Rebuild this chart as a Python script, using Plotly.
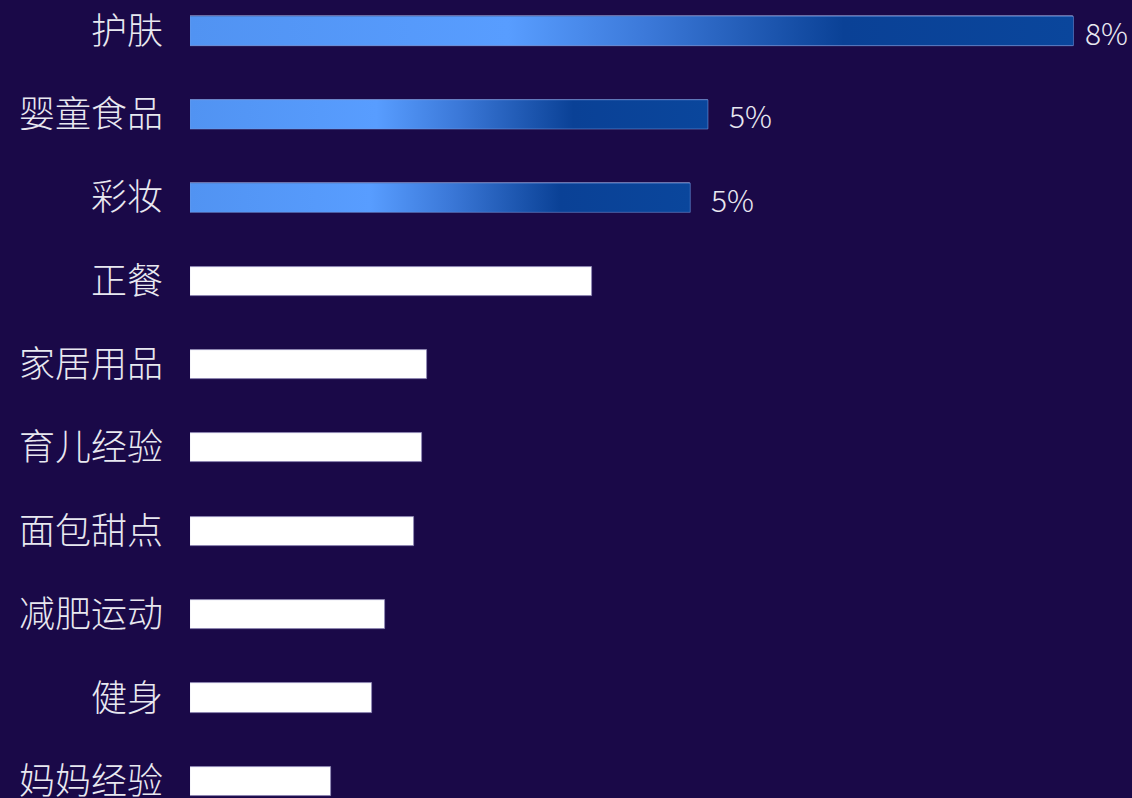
import plotly.graph_objects as go

categories = ["护肤", "婴童食品", "彩妆", "正餐", "家居用品", "育儿经验", "面包甜点", "减肥运动", "健身", "妈妈经验"]
values = [8.0, 4.69, 4.53, 3.64, 2.15, 2.10, 2.03, 1.77, 1.65, 1.28]
labels = ["8%", "5%", "5%", "", "", "", "", "", "", ""]
highlight_count = 3

BG = "#1a0948"
TEXT = "#e8e8f0"
BAR_W = 0.35
grad_scale = [[0.0, "#5193f2"], [0.36, "#589dff"], [0.52, "#3b78d8"],
              [0.74, "#0a4196"], [1.0, "#0a469c"]]

ypos = list(range(len(categories)))
colors = ["#0a469c" if i < highlight_count else "#ffffff" for i in ypos]

fig = go.Figure()
fig.add_trace(go.Bar(
    x=values, y=ypos, orientation="h", width=BAR_W,
    marker=dict(color=colors, line=dict(color="#8d86b5", width=0.8)),
    hoverinfo="skip", showlegend=False,
))

# gradient overlays for highlighted bars, built from the data values
for i in range(highlight_count):
    v = values[i]
    fig.add_trace(go.Scatter(
        x=[0, v, v, 0, 0],
        y=[i - BAR_W / 2, i - BAR_W / 2, i + BAR_W / 2, i + BAR_W / 2, i - BAR_W / 2],
        mode="lines", line=dict(width=0.8, color="rgba(120,160,230,0.6)"),
        fill="toself",
        fillgradient=dict(type="horizontal", colorscale=grad_scale),
        hoverinfo="skip", showlegend=False,
    ))

shifts = [10, 19, 19]
for i in range(highlight_count):
    fig.add_annotation(
        x=values[i], y=i, text=labels[i], showarrow=False,
        xanchor="left", yanchor="middle", xshift=shifts[i], yshift=-1,
        font=dict(size=30, color=TEXT, family="Noto Sans CJK SC", weight=300),
    )

# figure taller than the window so that the last row's label fits inside the plot area;
# the window crops it at 798 px like the reference
fig.update_layout(
    width=1132, height=823,
    margin=dict(l=190, r=0, t=0, b=0),
    paper_bgcolor=BG, plot_bgcolor=BG,
    font=dict(family="Noto Sans CJK SC", color=TEXT),
    bargap=0,
)
fig.update_xaxes(range=[0, 8.53], visible=False, showgrid=False, zeroline=False, fixedrange=True)
fig.update_yaxes(
    tickvals=ypos, ticktext=categories,
    range=[9.5, -0.372], showgrid=False, zeroline=False, showline=False,
    ticks="", ticklabelstandoff=26, automargin=False,
    tickfont=dict(size=36, color=TEXT, family="Noto Sans CJK SC", weight=300),
    fixedrange=True,
)

fig.write_html(
    "out.html",
    config={"displayModeBar": False},
    post_script="document.body.style.margin='0';document.body.style.overflow='hidden';document.body.style.background='#1a0948';",
)
